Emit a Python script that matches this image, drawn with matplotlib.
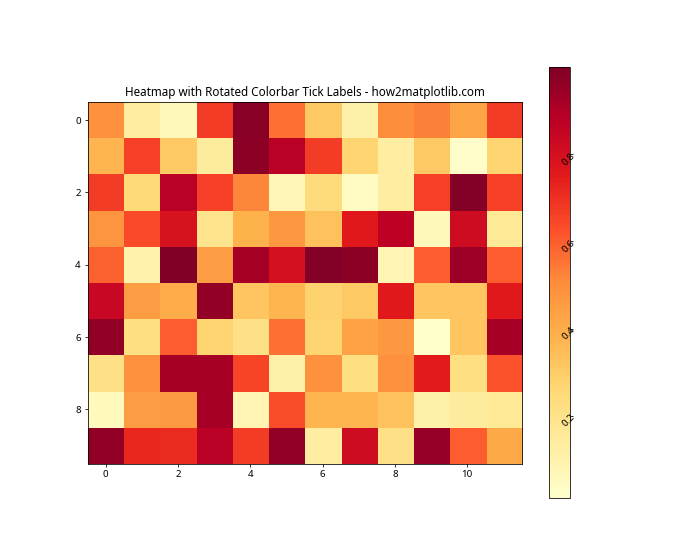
import numpy as np
import matplotlib
matplotlib.use("Agg")
import matplotlib.pyplot as plt

plt.rcParams['font.family'] = ['Noto Sans', 'DejaVu Sans']

row0 = [0.49, 0.13, 0.06, 0.67, 0.98, 0.56, 0.31, 0.11, 0.50, 0.53, 0.42, 0.67]
row1 = [0.37, 0.66, 0.31, 0.14, 0.97, 0.88, 0.67, 0.27, 0.13, 0.31, 0.02, 0.27]
row2 = [0.67, 0.25, 0.88, 0.66, 0.52, 0.07, 0.24, 0.04, 0.13, 0.66, 0.99, 0.66]
row3 = [0.48, 0.64, 0.79, 0.19, 0.38, 0.47, 0.33, 0.76, 0.87, 0.06, 0.82, 0.16]
row4 = [0.59, 0.10, 1.00, 0.45, 0.92, 0.80, 0.99, 0.97, 0.08, 0.60, 0.94, 0.60]
row5 = [0.84, 0.45, 0.40, 0.96, 0.32, 0.37, 0.28, 0.31, 0.76, 0.32, 0.32, 0.76]
row6 = [0.96, 0.22, 0.60, 0.27, 0.21, 0.56, 0.27, 0.43, 0.47, 0.01, 0.32, 0.92]
row7 = [0.21, 0.49, 0.92, 0.92, 0.65, 0.11, 0.49, 0.22, 0.49, 0.75, 0.22, 0.62]
row8 = [0.05, 0.45, 0.46, 0.92, 0.08, 0.63, 0.37, 0.37, 0.33, 0.11, 0.14, 0.16]
row9 = [0.96, 0.72, 0.71, 0.88, 0.67, 0.96, 0.13, 0.82, 0.21, 0.95, 0.60, 0.41]

data = np.array([row0, row1, row2, row3, row4, row5, row6, row7, row8, row9])

fig, ax = plt.subplots(figsize=(10, 8), dpi=70)
im = ax.imshow(data, cmap='YlOrRd')
ax.set_title('Heatmap with Rotated Colorbar Tick Labels - how2matplotlib.com')
cbar = fig.colorbar(im, ax=ax)
cbar.set_ticks([0.2, 0.4, 0.6, 0.8])
plt.setp(cbar.ax.get_yticklabels(), rotation=45, ha='right')
fig.savefig('out.png', dpi=70)
